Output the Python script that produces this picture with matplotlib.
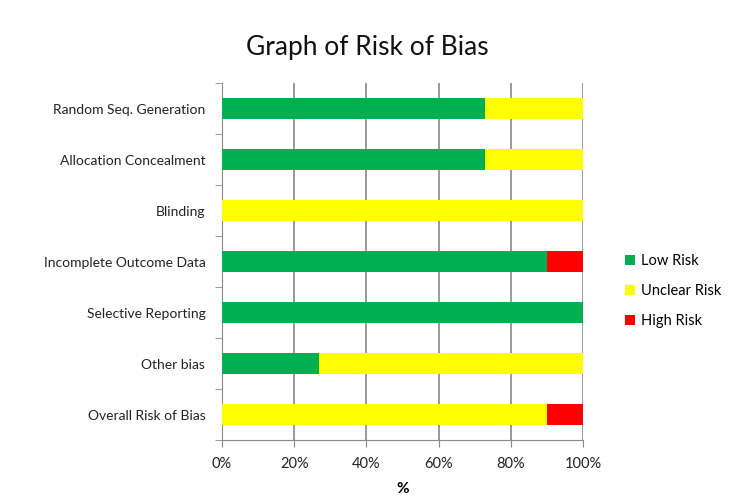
import numpy as np
import matplotlib
matplotlib.use("Agg")
import matplotlib.pyplot as plt
from matplotlib.ticker import FixedLocator, PercentFormatter

plt.rcParams['font.family'] = ['Lato', 'DejaVu Sans']

# data (percent of studies)
domains = ["Random Seq. Generation", "Allocation Concealment", "Blinding",
           "Incomplete Outcome Data", "Selective Reporting", "Other bias",
           "Overall Risk of Bias"]
low_risk = [73, 73, 0, 90, 100, 27, 0]
unclear_risk = [27, 27, 100, 0, 0, 73, 90]
high_risk = [0, 0, 0, 10, 0, 0, 10]

fig = plt.figure(figsize=(7.35, 4.97), dpi=100)
ax = fig.add_axes([0.302, 0.1147, 0.491, 0.718])

y = np.arange(len(domains))
low = np.array(low_risk)
unc = np.array(unclear_risk)
high = np.array(high_risk)

ax.barh(y, low, height=0.4, color="#00b050", label="Low Risk", zorder=3)
ax.barh(y, unc, left=low, height=0.4, color="#ffff00", label="Unclear Risk", zorder=3)
ax.barh(y, high, left=low + unc, height=0.4, color="#ff0000", label="High Risk", zorder=3)

ax.set_xlim(0, 100)
ax.set_ylim(len(domains) - 0.5, -0.5)
ax.set_xticks([0, 20, 40, 60, 80, 100])
ax.xaxis.set_major_formatter(PercentFormatter(decimals=0))
ax.set_yticks(y)
ax.set_yticklabels(domains)
ax.yaxis.set_minor_locator(FixedLocator(np.arange(-0.5, len(domains), 1)))
ax.tick_params(axis="y", which="major", length=0, pad=12, labelsize=10, colors="#222222")
ax.tick_params(axis="y", which="minor", length=5, color="#888888")
ax.tick_params(axis="x", length=5, color="#888888", labelsize=10.5, pad=7, labelcolor="#222222")

ax.grid(axis="x", color="#888888", linewidth=1.2, zorder=0)
for s in ["top", "right"]:
    ax.spines[s].set_visible(False)
ax.spines["left"].set_color("#888888")
ax.spines["bottom"].set_color("#888888")

ax.set_xlabel("%", fontsize=11, fontweight="bold", labelpad=8)
fig.suptitle("Graph of Risk of Bias", fontsize=19, y=0.93, color="#111111")

ax.legend(loc="center left", bbox_to_anchor=(1.08, 0.417), frameon=False,
          fontsize=10.5, handlelength=0.7, handleheight=0.7, handletextpad=0.4,
          labelspacing=1.1)

fig.savefig("out.png", dpi=100)
